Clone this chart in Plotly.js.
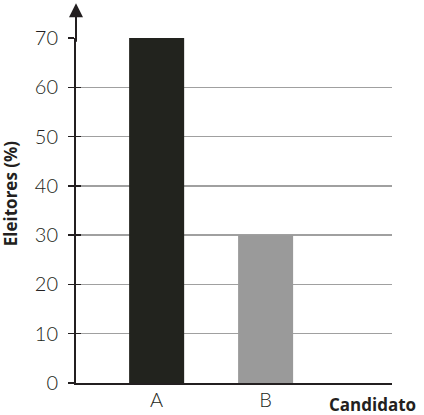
<!DOCTYPE html>
<html>
<head>
<meta charset="utf-8">
<script src="https://cdn.plot.ly/plotly-3.0.1.min.js"></script>
<style>
  html, body { margin: 0; padding: 0; background: #fff; }
  #chart { width: 424px; height: 415px; }
</style>
</head>
<body>
<div id="chart"></div>
<script>
const candidatos = ['A', 'B']
const eleitores = [70, 30]
const barColors = ['#22231e', '#9a9a9a']
const yTicks = [0, 10, 20, 30, 40, 50, 60, 70]

const ink = '#231f20'
const tickFont = { family: 'Lato, sans-serif', size: 20, weight: 300, color: ink }
const titleFont = { family: 'Open Sans, sans-serif', size: 17, weight: 700, color: ink }

const bars = {
  type: 'bar',
  x: candidatos,
  y: eleitores,
  width: 0.505,
  marker: { color: barColors, line: { width: 0 } },
  hoverinfo: 'none'
}

// invisible trace so the inside half of the y ticks can be drawn
const tickHelper = {
  type: 'scatter',
  x: candidatos,
  y: eleitores,
  yaxis: 'y2',
  mode: 'markers',
  marker: { opacity: 0 },
  hoverinfo: 'none'
}

const layout = {
  width: 424,
  height: 415,
  margin: { l: 76, r: 32, t: 38, b: 32 },
  paper_bgcolor: '#fff',
  plot_bgcolor: '#fff',
  showlegend: false,
  font: tickFont,
  xaxis: {
    type: 'category',
    range: [-0.74, 2.16],
    showgrid: false,
    zeroline: false,
    showline: true,
    linecolor: ink,
    linewidth: 2,
    ticks: '',
    ticklabelstandoff: -2,
    tickfont: tickFont
  },
  yaxis: {
    range: [0, 70],
    tickvals: yTicks,
    ticktext: yTicks.map(String),
    showgrid: true,
    gridcolor: '#a0a0a0',
    gridwidth: 1.5,
    zeroline: false,
    showline: true,
    linecolor: ink,
    linewidth: 2,
    ticks: 'outside',
    ticklen: 6,
    tickwidth: 1.5,
    tickcolor: ink,
    ticklabelstandoff: 6,
    tickfont: tickFont
  },
  yaxis2: {
    overlaying: 'y',
    range: [0, 70],
    tickvals: yTicks,
    showticklabels: false,
    showgrid: false,
    zeroline: false,
    showline: false,
    ticks: 'inside',
    ticklen: 5,
    tickwidth: 1.5,
    tickcolor: ink
  },
  annotations: [
    {
      // arrow at the top of the y axis
      xref: 'paper', yref: 'paper',
      x: 0, y: 1.101,
      ax: 0, ay: 40,
      showarrow: true,
      arrowhead: 2,
      arrowsize: 1.4,
      arrowwidth: 2,
      arrowcolor: ink,
      text: ''
    },
    {
      xref: 'paper', yref: 'paper',
      x: -0.209, y: 0.55,
      xanchor: 'center', yanchor: 'middle',
      textangle: -90,
      showarrow: false,
      text: 'Eleitores (%)',
      font: titleFont
    },
    {
      xref: 'paper', yref: 'paper',
      x: 1.078, y: -0.062,
      xanchor: 'right', yanchor: 'middle',
      borderpad: 0,
      showarrow: false,
      text: 'Candidato',
      font: titleFont
    }
  ]
}

Plotly.newPlot('chart', [bars, tickHelper], layout, { staticPlot: true, displayModeBar: false })
</script>
</body>
</html>
